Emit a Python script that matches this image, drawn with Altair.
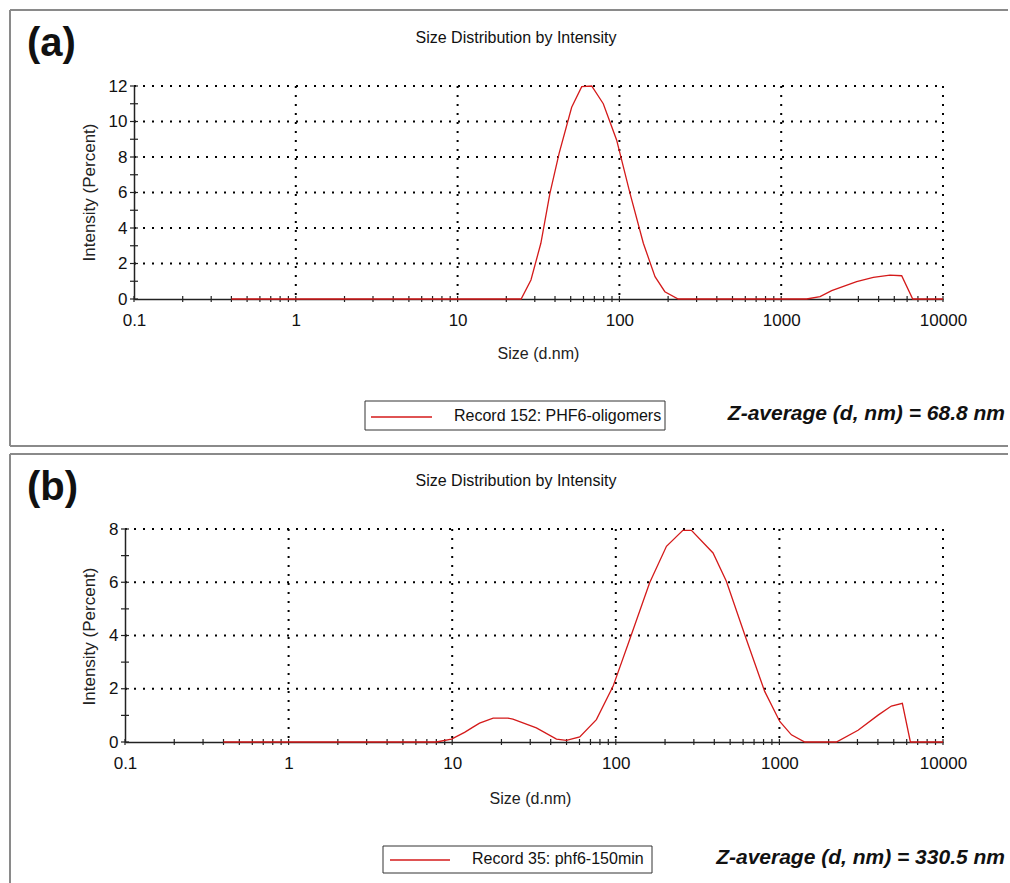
import altair as alt
import pandas as pd

FONT = "Liberation Sans"

# ---------------- data ----------------
size_a = [0.4, 24.7, 28.4, 32.7, 37.2, 42.4, 50.7, 58.5, 67.4, 79.5, 96.1, 116.3,
          140.6, 166, 191, 231, 1436, 1738, 2051, 2926, 3709, 4701, 5553, 6499, 10000]
intensity_a = [0, 0, 1.07, 3.14, 5.95, 8.2, 10.8, 11.96, 12.0, 11.0, 8.96, 5.95,
               3.14, 1.26, 0.41, 0, 0, 0.13, 0.47, 0.98, 1.22, 1.35, 1.31, 0, 0]

size_b = [0.4, 8.0, 9.9, 11.9, 13.4, 14.7, 17.8, 21.9, 23.5, 32.7, 43.4, 49.9, 60.2,
          76.1, 96.2, 121.6, 161, 204, 257, 290, 393, 474, 614, 813, 1005, 1184,
          1429, 2230, 3025, 4012, 4835, 5643, 6320, 10000]
intensity_b = [0, 0, 0.11, 0.36, 0.56, 0.71, 0.9, 0.9, 0.86, 0.53, 0.11, 0.06, 0.19,
               0.84, 2.09, 3.85, 5.98, 7.35, 7.95, 7.95, 7.1, 6.04, 4.03, 1.9, 0.77, 0.27,
               0, 0, 0.44, 1.01, 1.35, 1.45, 0, 0]

x_major = [0.1, 1, 10, 100, 1000, 10000]
x_minor = [0.2, 0.3, 0.4, 0.5, 0.6, 0.7, 0.8, 0.9,
           2, 3, 4, 5, 6, 7, 8, 9,
           20, 30, 40, 50, 60, 70, 80, 90,
           200, 300, 400, 500, 600, 700, 800, 900,
           2000, 3000, 4000, 5000, 6000, 7000, 8000, 9000]

y_ticks_a = [0, 1, 2, 3, 4, 5, 6, 7, 8, 9, 10, 11, 12]
y_labels_a = [0, 2, 4, 6, 8, 10, 12]
y_ticks_b = [0, 1, 2, 3, 4, 5, 6, 7, 8]
y_labels_b = [0, 2, 4, 6, 8]

chart_title = "Size Distribution by Intensity"
x_title = "Size (d.nm)"
y_title = "Intensity (Percent)"

one = pd.DataFrame({"k": [0]})


def seg(x1, x2, y1, y2, color, width):
    return alt.Chart(one).mark_rule(color=color, strokeWidth=width).encode(
        x=alt.value(x1), x2=alt.value(x2), y=alt.value(y1), y2=alt.value(y2))


def txt(text, x, y, **kw):
    return alt.Chart(one).mark_text(text=text, font=FONT, color="#111", **kw).encode(
        x=alt.value(x), y=alt.value(y))


def panel(sizes, vals, ymax, y_ticks, y_labels, W, H, letter, record, zavg, L):
    ox = L["ox"]  # how far left of the view origin the plot's left edge sits
    xs = alt.Scale(type="log", domain=[0.1, 10000], nice=False, range=[-ox, W])
    ys = alt.Scale(domain=[0, ymax], nice=False, zero=True)
    xaxis = alt.Axis(values=x_major, format=".1~f", title=x_title, ticks=False, grid=False,
                     labelPadding=13, labelFontSize=17, labelFont=FONT, labelColor="#111",
                     labelOverlap=False, labelFlush=False,
                     domainColor="#222", domainWidth=1.5,
                     titleFont=FONT, titleFontSize=16, titleFontWeight="normal",
                     titleColor="#222", titleX=L["xtx"], titleY=L["xty"],
                     titleBaseline="middle", titleAlign="center")
    yaxis = alt.Axis(values=y_labels, title=y_title, ticks=False, grid=False, offset=ox,
                     labelPadding=7, labelFontSize=17, labelFont=FONT, labelColor="#111",
                     labelOverlap=False, labelFlush=False,
                     domainColor="#222", domainWidth=1.5,
                     titleFont=FONT, titleFontSize=17, titleFontWeight="normal",
                     titleColor="#222", titleX=L["ytx"], titleY=L["yty"], titleAngle=270,
                     titleBaseline="middle", titleAlign="center")

    df = pd.DataFrame({"size": sizes, "intensity": vals})

    border = [
        seg(L["bl"], L["bl"], L["bt"], L["bb"], "#8a8a8a", 2),
        seg(L["bl"], L["br"], L["bt"], L["bt"], "#8a8a8a", 2),
    ]
    if L.get("bottom", False):
        border.append(seg(L["bl"], L["br"], L["bb"], L["bb"], "#8a8a8a", 2))

    vgrid = alt.Chart(pd.DataFrame({"v": x_major[1:]})).mark_rule(
        color="black", strokeWidth=2, strokeDash=[2, 7]).encode(
        x=alt.X("v:Q", scale=xs, axis=xaxis))
    hgrid = alt.Chart(pd.DataFrame({"v": y_labels[1:]})).mark_rule(
        color="black", strokeWidth=2, strokeDash=[2, 7]).encode(
        y=alt.Y("v:Q", scale=ys, axis=yaxis), x=alt.value(-ox), x2=alt.value(W))

    xt = alt.Chart(pd.DataFrame({"v": x_major + x_minor})).mark_rule(
        color="#222", strokeWidth=1.2).encode(
        x=alt.X("v:Q", scale=xs, axis=xaxis), y=alt.value(H - 3), y2=alt.value(H + 3))
    yt = alt.Chart(pd.DataFrame({"v": y_ticks})).mark_rule(
        color="#222", strokeWidth=1.2).encode(
        y=alt.Y("v:Q", scale=ys, axis=yaxis), x=alt.value(-ox - 4), x2=alt.value(-ox + 4))

    line = alt.Chart(df).mark_line(color="#d41a1a", strokeWidth=1.3).encode(
        x=alt.X("size:Q", scale=xs, axis=xaxis),
        y=alt.Y("intensity:Q", scale=ys, axis=yaxis))

    legbox = alt.Chart(one).mark_rect(fill="white", stroke="#333", strokeWidth=1).encode(
        x=alt.value(L["lx1"]), x2=alt.value(L["lx2"]),
        y=alt.value(L["ly1"]), y2=alt.value(L["ly2"]))
    legline = seg(L["llx1"], L["llx2"], L["lly"], L["lly"], "#d41a1a", 1.3)

    texts = [
        txt(chart_title, L["tx"], L["ty"], fontSize=16, align="center", baseline="middle"),
        txt(letter, L["ax"], L["ay"], fontSize=40, fontWeight="bold", align="left",
            baseline="alphabetic"),
        txt(record, L["ltx"], L["lty"], fontSize=16, align="left", baseline="middle"),
        txt(zavg, L["zx"], L["zy"], fontSize=21, fontWeight="bold", fontStyle="italic",
            align="right", baseline="middle"),
    ]

    return alt.layer(*border, vgrid, hgrid, xt, yt, line, legbox, legline, *texts).properties(
        width=W, height=H)


# all offsets are relative to a view origin at (134, panel top)
La = dict(ox=0, bl=-124, br=874, bt=-76, bb=360, bottom=True,
          xtx=404, xty=54, ytx=-45, yty=106,
          tx=382, ty=-48, ax=-107, ay=-30,
          lx1=231, lx2=531, ly1=315, ly2=344,
          llx1=237, llx2=298, lly=331,
          ltx=320, lty=330, zx=871, zy=328)

Lb = dict(ox=9, bl=-124, br=874, bt=-75, bb=354, bottom=False,
          xtx=396, xty=56, ytx=-36, yty=107,
          tx=382, ty=-48, ax=-107, ay=-29,
          lx1=249, lx2=518, ly1=317, ly2=344,
          llx1=256, llx2=316, lly=331,
          ltx=338, lty=330, zx=871, zy=329)

pa = panel(size_a, intensity_a, 12, y_ticks_a, y_labels_a, 809, 213, "(a)",
           "Record 152: PHF6-oligomers", "Z-average (d, nm) = 68.8 nm", La)
pb = panel(size_b, intensity_b, 8, y_ticks_b, y_labels_b, 809, 213, "(b)",
           "Record 35: phf6-150min", "Z-average (d, nm) = 330.5 nm", Lb)

chart = alt.vconcat(pa, pb, spacing=6).properties(
    padding={"left": 9, "top": 9, "right": 0, "bottom": 0},
    background="white",
).configure_view(stroke=None)

chart.save("out.html", embed_options={"renderer": "svg", "actions": False})
